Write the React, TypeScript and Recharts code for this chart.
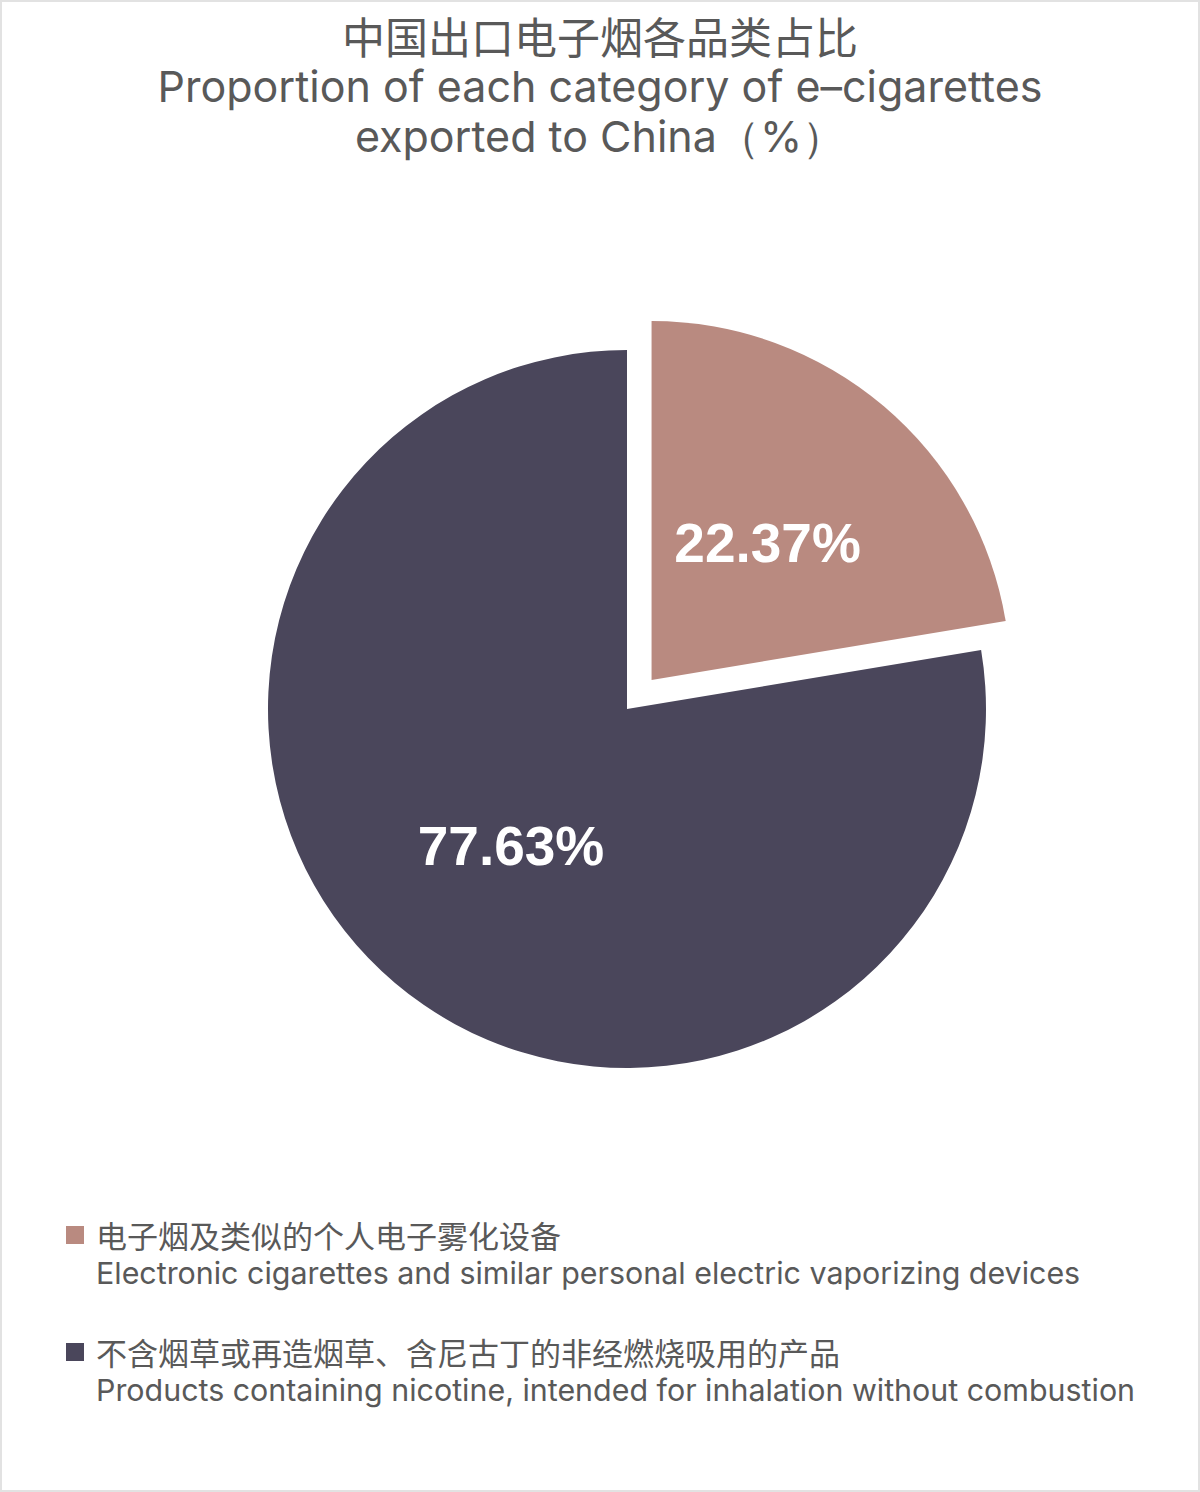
import React from 'react';
import { PieChart, Pie, Cell, Sector, Legend } from 'recharts';

const titleZh = '中国出口电子烟各品类占比';
const titleEnLines = ['Proportion of each category of e–cigarettes', 'exported to China（%）'];

const categoriesZh = ['电子烟及类似的个人电子雾化设备', '不含烟草或再造烟草、含尼古丁的非经燃烧吸用的产品'];
const categoriesEn = [
  'Electronic cigarettes and similar personal electric vaporizing devices',
  'Products containing nicotine, intended for inhalation without combustion',
];
const shares = [22.37, 77.63];
const colors = ['#b98a80', '#4a465b'];
const exploded = [true, false];

const data = shares.map((value, i) => ({
  name: categoriesEn[i],
  nameZh: categoriesZh[i],
  value,
  explode: exploded[i],
}));

const RADIAN = Math.PI / 180;
const EXPLODE = 38;
const TEXT = '#595959';
const LATIN = 'Inter, "Liberation Sans", sans-serif';
const CJK = '"Noto Sans CJK SC", sans-serif';

const shift = (midAngle: number, on: boolean) => ({
  dx: on ? EXPLODE * Math.cos(-midAngle * RADIAN) : 0,
  dy: on ? EXPLODE * Math.sin(-midAngle * RADIAN) : 0,
});

const SliceShape = (props: any) => {
  const { cx, cy, midAngle, payload } = props;
  const { dx, dy } = shift(midAngle, payload?.explode);
  return <Sector {...props} cx={cx + dx} cy={cy + dy} stroke="none" />;
};

const renderLabel = (props: any) => {
  const { cx, cy, midAngle, outerRadius, value, payload } = props;
  const { dx, dy } = shift(midAngle, payload?.explode);
  const r = outerRadius * 0.5;
  const x = cx + dx + r * Math.cos(-midAngle * RADIAN);
  const y = cy + dy + r * Math.sin(-midAngle * RADIAN);
  return (
    <text
      x={x}
      y={y}
      fill="#ffffff"
      textAnchor="middle"
      dominantBaseline="central"
      fontFamily='"Liberation Sans", Arial, sans-serif'
      fontWeight="bold"
      fontSize={55}
    >
      {`${value.toFixed(2)}%`}
    </text>
  );
};

const LegendContent = () => (
  <div style={{ color: TEXT }}>
    {data.map((d, i) => (
      <div key={d.name} style={{ marginBottom: i === 0 ? 40 : 0 }}>
        <div style={{ display: 'flex', alignItems: 'center', height: 36 }}>
          <span
            style={{ width: 18, height: 18, background: colors[i], display: 'inline-block', marginRight: 12 }}
          />
          <span style={{ fontFamily: CJK, fontSize: 31, lineHeight: '36px' }}>{d.nameZh}</span>
        </div>
        <div style={{ fontFamily: LATIN, fontSize: 30.4, marginLeft: 30, lineHeight: '41px' }}>{d.name}</div>
      </div>
    ))}
  </div>
);

export default function App() {
  return (
    <div
      style={{
        position: 'absolute',
        left: 0,
        top: 0,
        width: 1200,
        height: 1492,
        background: '#ffffff',
        overflow: 'hidden',
      }}
    >
      <div
        style={{
          position: 'absolute',
          left: 0,
          top: 9,
          width: 1200,
          textAlign: 'center',
          color: TEXT,
          lineHeight: '50px',
        }}
      >
        <div style={{ fontFamily: CJK, fontSize: 43, lineHeight: '52px' }}>{titleZh}</div>
        {titleEnLines.map((t) => (
          <div key={t} style={{ fontFamily: LATIN, fontSize: 43 }}>
            {t}
          </div>
        ))}
      </div>
      <div style={{ position: 'absolute', left: 0, top: 0 }}>
        <PieChart width={1200} height={1492} margin={{ top: 0, right: 0, bottom: 0, left: 0 }}>
          <Pie
            data={data}
            dataKey="value"
            nameKey="name"
            cx={627}
            cy={709}
            outerRadius={359}
            startAngle={90}
            endAngle={-270}
            stroke="none"
            shape={SliceShape}
            label={renderLabel}
            labelLine={false}
            isAnimationActive={false}
          >
            {data.map((d, i) => (
              <Cell key={d.name} fill={colors[i]} />
            ))}
          </Pie>
          <Legend
            content={<LegendContent />}
            layout="vertical"
            wrapperStyle={{ position: 'absolute', left: 66, top: 1217, width: 1120 }}
          />
        </PieChart>
      </div>
      <div
        style={{
          position: 'absolute',
          inset: 0,
          border: '2px solid #e2e2e2',
          pointerEvents: 'none',
        }}
      />
    </div>
  );
}
